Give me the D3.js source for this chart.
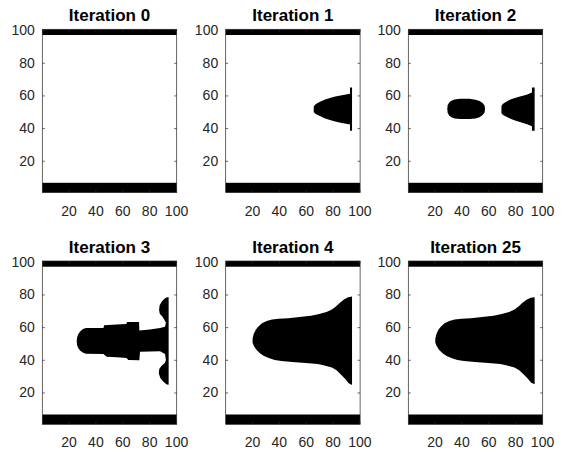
<!DOCTYPE html>
<html>
<head>
<meta charset="utf-8">
<title>Iterations</title>
<script src="https://cdn.jsdelivr.net/npm/d3@7/dist/d3.min.js"></script>
<style>
  body { margin: 0; background: #fff; }
  svg { display: block; font-family: "Liberation Sans", Arial, Helvetica, sans-serif; }
  .tick text { fill: #262626; font-size: 14px; }
  .tick line { stroke: #262626; stroke-width: 0.7; }
  .title { fill: #000; font-size: 17px; font-weight: bold; }
</style>
</head>
<body>
<script>
// panel titles and ticks
const titles = ["Iteration 0", "Iteration 1", "Iteration 2", "Iteration 3", "Iteration 4", "Iteration 25"];
const xTicks = [20, 40, 60, 80, 100];
const yTicks = [20, 40, 60, 80, 100];

// black rows present in every iteration (y ranges, image rows)
const topBand = [97, 100.5];
const bottomBand = [0.5, 6.5];

// black regions per iteration, outlines as [x, y]
const iter0 = [];
const iter1 = [[
  [66, 53.3], [67, 54.3], [68.5, 55.2], [70.7, 56.1], [74, 57.3], [78, 58.4], [82, 59.3], [86, 60], [90, 60.6],
  [93, 61], [93, 64.8], [94.5, 64.8], [94.5, 38.3], [93, 38.3], [93, 42.2], [90, 42.6],
  [86, 43.3], [82, 44.1], [78, 45], [74, 46.1], [71, 47.2], [68.5, 48.1], [67, 48.9], [66, 49.8]
]];
const iter2 = [
  [
    [29.5, 51.7], [29.8, 54], [30.8, 55.5], [32.5, 56.7], [35, 57.5], [39, 57.9], [46, 57.9],
    [50.5, 57.4], [53.5, 56.6], [55.8, 55.3], [57.2, 53.8], [57.6, 51.7], [57.2, 49.5],
    [55.8, 48], [53.5, 46.7], [50.5, 45.9], [46, 45.5], [39, 45.5], [35, 45.9], [32.5, 46.7],
    [30.8, 47.9], [29.8, 49.4]
  ],
  [
    [69.8, 53.6], [70.8, 54.7], [72.4, 55.7], [75, 56.9], [77.4, 57.8], [80.5, 58.6], [83.6, 59.3],
    [86.5, 60], [89, 60.6], [91.6, 61.5], [92.5, 61.8], [92.5, 64.8], [94.5, 64.8], [94.5, 38.4],
    [92.5, 38.4], [92.5, 41.2], [91.6, 41.5], [89, 42.3], [86.5, 43], [83.6, 43.7], [80.5, 44.5],
    [77.4, 45.4], [75, 46.3], [72.4, 47.4], [70.8, 48.2], [69.8, 49.1]
  ]
];
const iter3 = [[
  [26.1, 51.3], [26.4, 53.8], [27.3, 55.8], [28.8, 57.5], [30.8, 58.8], [33, 59.4], [46, 59.5], [46.5, 61.2],
  [56, 61.6], [63, 61.9], [63.6, 63.2], [72.5, 63.2], [72.7, 58], [80.6, 58.6], [88.1, 59.4],
  [91.8, 60.3], [92.5, 62.7], [91.1, 64.8], [89.6, 66.6], [87.9, 68.2], [87.4, 70.5],
  [87.8, 73.4], [89.6, 75.8], [91.6, 77.5], [93.3, 78.3], [94.5, 78.3], [94.5, 24.7],
  [93.1, 24.9], [90.6, 26.6], [88.3, 28.9], [87.2, 31.6], [87.5, 34.4], [89.3, 36.3],
  [91.6, 38], [92.5, 39.8], [91.8, 43.6], [88.1, 45.3], [80.6, 45.1], [73.2, 44.9],
  [72.7, 39.7], [64.5, 39.8], [63.2, 41.1], [56, 41.6], [48.4, 41.8], [46, 43.5],
  [33, 43.7], [30.8, 44.3], [28.8, 45.5], [27.3, 47], [26.4, 48.9]
]];
const iter4 = [[
  [20.5, 53], [21.4, 56], [23, 58.6], [25, 60.6], [27.5, 62.4], [31, 63.8], [35, 64.7],
  [40, 65.2], [47, 65.5], [57, 66.3], [64, 67], [70, 68.1], [75.5, 69.3], [79.5, 70.8],
  [82.5, 72.7], [85.5, 75], [88.5, 76.9], [91.5, 78.3], [94.5, 78.7], [94.5, 24.6],
  [92, 25.6], [89.3, 28.4], [86, 31.2], [83, 33.6], [79.5, 35.3], [74, 36.5], [69, 37.4],
  [60, 38], [50, 38.6], [42, 39.2], [37, 39.9], [33, 40.9], [29, 42.4], [26, 44],
  [23.3, 46.2], [21.4, 48.6], [20.5, 50.5]
]];
const iter25 = [[
  [20.6, 53], [21.5, 56], [23, 58.6], [25, 60.6], [27.5, 62.4], [31, 63.8], [35, 64.7],
  [40, 65.2], [47, 65.5], [57, 66.3], [64, 67], [70, 68.1], [75.5, 69.3], [79.5, 70.8],
  [82.5, 72.7], [85.5, 75], [88.5, 76.8], [91.5, 78], [94.5, 78.3], [94.5, 25],
  [92, 26], [89.3, 28.6], [86, 31.3], [83, 33.6], [79.5, 35.3], [74, 36.5], [69, 37.4],
  [60, 38], [50, 38.6], [42, 39.2], [37, 39.9], [33, 40.9], [29, 42.4], [26, 44],
  [23.3, 46.2], [21.5, 48.6], [20.6, 50.5]
]];
const shapes = [iter0, iter1, iter2, iter3, iter4, iter25];

const W = 586, H = 453;
const colLeft = [42.3, 225.7, 408.3];
const rowTop = [29.3, 261];
const pw = 134.4, ph = 163.3;

const svg = d3.select("body").append("svg")
  .attr("width", W).attr("height", H);

const x = d3.scaleLinear().domain([0.5, 100.5]).range([0, pw]);
const y = d3.scaleLinear().domain([0.5, 100.5]).range([ph, 0]);
const line = d3.line().x(d => x(d[0])).y(d => y(d[1]));

titles.forEach((t, i) => {
  const g = svg.append("g")
    .attr("transform", `translate(${colLeft[i % 3]},${rowTop[Math.floor(i / 3)]})`);

  g.append("rect").attr("width", pw).attr("height", ph).attr("fill", "#fff");

  [topBand, bottomBand].forEach(b => {
    g.append("rect")
      .attr("x", x(0.5)).attr("width", x(100.5) - x(0.5))
      .attr("y", y(b[1])).attr("height", y(b[0]) - y(b[1]))
      .attr("fill", "#000");
  });

  g.selectAll("path.blob").data(shapes[i]).enter().append("path")
    .attr("class", "blob")
    .attr("d", d => line(d) + "Z")
    .attr("fill", "#000");

  // axes: ticks pointing inward, labels on left and bottom
  const bottom = g.append("g").attr("transform", `translate(0,${ph})`)
    .call(d3.axisBottom(x).tickValues(xTicks).tickSize(-2.5).tickPadding(13));
  const left = g.append("g")
    .call(d3.axisLeft(y).tickValues(yTicks).tickSize(-2.5).tickPadding(7.5));
  const top = g.append("g")
    .call(d3.axisTop(x).tickValues(xTicks).tickSize(-2.5).tickFormat(""));
  const right = g.append("g").attr("transform", `translate(${pw},0)`)
    .call(d3.axisRight(y).tickValues(yTicks).tickSize(-2.5).tickFormat(""));
  [bottom, left, top, right].forEach(a => a.select(".domain").remove());
  bottom.selectAll(".tick text").attr("dy", "0.71em");

  g.append("rect").attr("width", pw).attr("height", ph)
    .attr("fill", "none").attr("stroke", "#262626").attr("stroke-width", 0.7);

  g.append("text").attr("class", "title")
    .attr("x", pw / 2).attr("y", -8.3)
    .attr("text-anchor", "middle")
    .text(t);
});
</script>
</body>
</html>
